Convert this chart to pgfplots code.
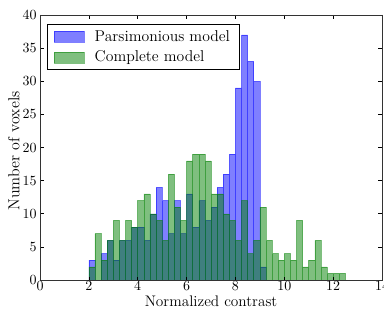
\documentclass[border=0pt]{standalone}
\usepackage{pgfplots}
\pgfplotsset{compat=1.18}
\begin{document}
\begin{tikzpicture}
\begin{axis}[
  scale only axis, width=268.1pt, height=207.8pt,
  xmin=0, xmax=14, ymin=0, ymax=40,
  xtick={0,2,...,14}, ytick={0,5,...,40},
  minor tick num=0,
  tick align=inside, major tick length=2.8pt,
  tick style={black, line width=0.5pt},
  axis line style={line width=0.6pt, black!80},
  axis on top,
  tick label style={font=\fontsize{10.5}{12}\selectfont},
  xticklabel style={inner sep=1.2pt},
  yticklabel style={inner sep=2.4pt},
  xlabel={Normalized contrast}, ylabel={Number of voxels},
  xlabel style={font=\fontsize{12}{14}\selectfont, at={(rel axis cs:0.5,-0.098)}, anchor=base},
  ylabel style={font=\fontsize{12.5}{14}\selectfont, at={(rel axis cs:-0.0605,0.487)}, anchor=base},
  legend cell align=left,
  legend style={at={(rel axis cs:0.0213,0.966)}, anchor=north west,
    draw=black, line width=0.6pt, inner xsep=5pt, inner ysep=4.6pt,
    font=\fontsize{12.3}{14}\selectfont, row sep=6.1pt, column sep=5.3pt,
    nodes={inner ysep=0pt, inner xsep=2.7pt}},
  legend image code/.code={\draw[#1, line width=0.4pt] (0pt,-4.3pt) rectangle (23.5pt,4.3pt);},
]
\addplot[ybar interval, fill=blue, fill opacity=0.5, draw=blue, draw opacity=0.5, line width=0.4pt] coordinates {
(2.00,3)(2.25,0)(2.50,4)(2.75,6)(3.00,3)(3.25,6)(3.50,6)(3.75,8)(4.00,8)(4.25,6)(4.50,10)(4.75,14)(5.00,12)(5.25,7)(5.50,12)(5.75,7)(6.00,13)(6.25,8)(6.50,12)(6.75,9)(7.00,11)(7.25,14)(7.50,16)(7.75,19)(8.00,29)(8.25,37)(8.50,33)(8.75,30)(9.00,2)(9.25,2)};
\addlegendentry{Parsimonious model}
\addplot[ybar interval, fill={rgb,1:red,0;green,0.5;blue,0}, fill opacity=0.5, draw={rgb,1:red,0;green,0.5;blue,0}, draw opacity=0.5, line width=0.4pt] coordinates {
(2.00,2)(2.25,7)(2.50,3)(2.75,6)(3.00,9)(3.25,6)(3.50,9)(3.75,8)(4.00,12)(4.25,13)(4.50,10)(4.75,9)(5.00,6)(5.25,16)(5.50,11)(5.75,9)(6.00,18)(6.25,19)(6.50,19)(6.75,18)(7.00,13)(7.25,13)(7.50,10)(7.75,9)(8.00,6)(8.25,12)(8.50,4)(8.75,6)(9.00,11)(9.25,6)(9.50,4)(9.75,3)(10.00,4)(10.25,3)(10.50,9)(10.75,2)(11.00,3)(11.25,6)(11.50,2)(11.75,1)(12.00,1)(12.25,1)(12.50,1)};
\addlegendentry{Complete model}
\coordinate (SW) at (rel axis cs:0,0);
\coordinate (NE) at (rel axis cs:1,1);
\end{axis}
\pgfresetboundingbox
\path ([shift={(-31.36pt,-25.1pt)}]SW) rectangle ([shift={(1.57pt,11.76pt)}]NE);
\end{tikzpicture}
\end{document}
